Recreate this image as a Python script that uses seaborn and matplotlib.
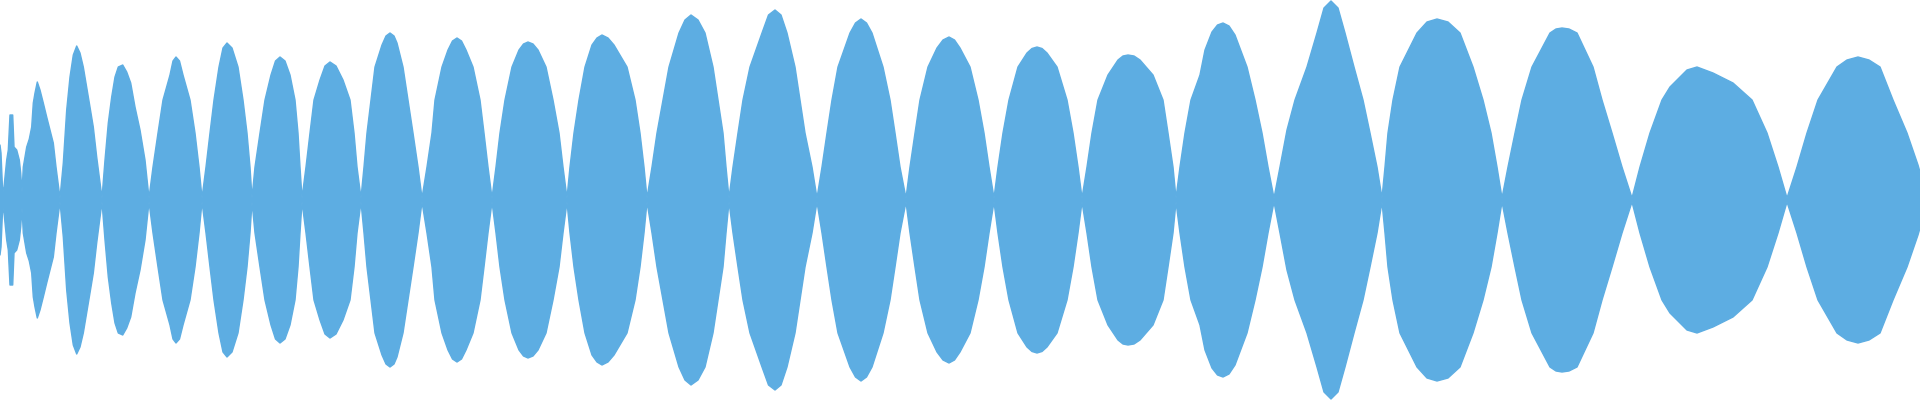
import seaborn as sns
import matplotlib
matplotlib.use("Agg")
import matplotlib.pyplot as plt
import numpy as np
import pandas as pd

# top half of the waveform envelope (mirrored below the centre line)
env_x = [
    0, 1, 2.7,
    4, 6.7, 8.3, 10, 12.7, 14, 16.7, 19.3, 20.7, 22,
    23.3, 26.7, 29.3, 31.7, 33.3, 35, 37.3, 40, 43.3, 46.7, 50, 53.3, 56, 60,
    63.3, 66.7, 70, 73.3, 76.7, 80, 83.3, 86.7, 90, 93.3, 96.7, 102,
    105, 108.3, 111.7, 115, 118.3, 122.7, 126.7, 130.7, 135, 140, 145, 149,
    153, 158, 163, 170, 173, 176, 179.5, 183, 190, 195, 199, 202,
    206, 210, 214, 219, 223, 227, 232, 238, 243, 247, 250, 252,
    255, 260, 265, 271, 275.5, 280, 285, 290, 295, 298, 300, 302,
    306, 310, 314, 320, 325, 330, 336, 343, 350, 354, 357, 361,
    364, 367, 371, 375, 382, 386, 390, 394, 397, 403, 408, 413, 418, 422,
    427, 432, 435, 442, 448, 452.5, 457, 461.5, 466, 473, 480, 484, 488, 492,
    496, 500, 505, 512, 519, 523.5, 528, 533, 538, 546, 553, 559, 563, 567,
    570, 574, 579, 585, 592, 597, 602, 608, 614, 627, 635, 640, 644, 647,
    652, 657, 663, 669, 679, 685, 691, 698, 705, 713, 718, 723, 726, 729,
    733, 738, 743, 750, 762, 768.5, 775, 781, 787, 795, 800, 805, 812, 817,
    822, 827, 832, 838, 850, 855.5, 861, 866.5, 872, 883, 890, 895, 900, 906,
    910, 915, 920, 928, 937, 943, 949, 954.5, 960, 970, 978, 984, 989, 994,
    998, 1003, 1009, 1018, 1027, 1032, 1037, 1042, 1047, 1057, 1067, 1073, 1078, 1082,
    1087, 1092, 1098, 1108, 1118, 1123, 1128, 1134, 1140, 1153, 1163, 1168, 1173, 1176,
    1180, 1185, 1191, 1200, 1205, 1212, 1217.5, 1223, 1229, 1235, 1247, 1255, 1262, 1268, 1274,
    1280, 1287, 1295, 1307, 1317, 1324, 1331, 1338, 1345, 1354, 1363, 1370, 1377, 1382,
    1385, 1388, 1393, 1400, 1417, 1427, 1437, 1448, 1460, 1473, 1483, 1491, 1497, 1502,
    1508, 1515, 1522, 1532, 1550, 1556, 1562, 1569, 1577, 1593, 1602, 1612, 1622, 1632,
    1640, 1650, 1662, 1670, 1680, 1687, 1697, 1713, 1733, 1752, 1767, 1778, 1787,
    1797, 1807, 1818, 1837, 1847, 1858, 1869, 1880, 1893, 1907, 1918, 1920,
]
env_amp = [
    55, 47, 7,
    13, 40, 50, 85, 85, 53, 50, 40, 27, 8,
    33, 53, 61, 73, 97, 107, 118, 110, 97, 83, 70, 57, 33, 2,
    37, 90, 123, 145, 154, 147, 133, 113, 93, 73, 43, 2,
    40, 77, 103, 123, 133, 135, 128, 117, 93, 70, 40, 2,
    33, 67, 100, 125, 139, 143, 139, 125, 100, 67, 33, 2,
    33, 67, 100, 133, 152, 157, 152, 133, 100, 67, 33, 2,
    33, 67, 100, 125, 139, 143, 139, 125, 100, 67, 33, 2,
    33, 67, 100, 120, 134, 138, 134, 120, 100, 67, 33, 2,
    33, 67, 100, 133, 155, 164, 167, 164, 157, 133, 100, 67, 33, 2,
    33, 67, 100, 133, 150, 159, 162, 159, 150, 133, 100, 67, 33, 2,
    33, 67, 100, 133, 150, 156, 158, 156, 150, 133, 100, 67, 33, 2,
    33, 67, 100, 133, 155, 162, 165, 162, 155, 133, 100, 67, 33, 2,
    33, 67, 100, 133, 167, 180, 185, 180, 167, 133, 100, 67, 33, 2,
    33, 67, 100, 133, 167, 185, 190, 185, 167, 133, 100, 67, 33, 2,
    33, 67, 100, 133, 167, 177, 181, 177, 167, 133, 100, 67, 33, 2,
    33, 67, 100, 133, 152, 160, 163, 160, 152, 133, 100, 67, 33, 2,
    33, 67, 100, 133, 147, 151.5, 153, 151.5, 147, 133, 100, 67, 33, 2,
    33, 67, 100, 125, 140, 144, 145, 144, 140, 125, 100, 67, 33, 2,
    33, 67, 100, 125, 150, 168, 175, 177, 174, 165, 133, 100, 67, 33, 2,
    33, 70, 100, 133, 167, 192, 199, 192, 167, 133, 100, 67, 33, 2,
    33, 67, 100, 133, 167, 178, 181, 178, 167, 133, 100, 67, 33, 2,
    33, 67, 100, 133, 167, 171, 172, 171, 167, 133, 100, 67, 33, 2,
    33, 67, 100, 113, 123, 130, 133, 127, 117, 100, 67, 33, 2,
    33, 67, 100, 133, 140, 143, 140, 133, 100, 67, 35, 28,
]

wave_color = "#5dade2"

df = pd.DataFrame({"x": env_x, "amp": env_amp})

sns.set_style("white")
fig, ax = plt.subplots(figsize=(19.2, 4), dpi=100)
fig.subplots_adjust(left=0, right=1, bottom=0, top=1)

ax.fill_between(df["x"], -df["amp"], df["amp"], color=wave_color, linewidth=0)
sns.lineplot(x=df["x"], y=df["amp"], color=wave_color, linewidth=1, ax=ax)
sns.lineplot(x=df["x"], y=-df["amp"], color=wave_color, linewidth=1, ax=ax)

ax.set_xlim(0, 1920)
ax.set_ylim(-200, 200)
ax.axis("off")

plt.savefig("out.png", dpi=100, facecolor="white")
